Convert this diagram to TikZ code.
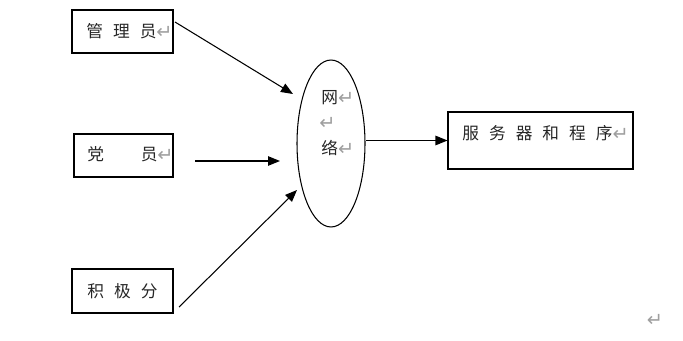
\documentclass[tikz,border=0pt]{standalone}
\usepackage{fontspec}
\newfontfamily\cjk{Noto Sans CJK SC}
\newfontfamily\symfont{DejaVu Sans}
\usepackage{xcolor}
\usetikzlibrary{arrows.meta, positioning, shapes.geometric}

\newcommand{\cgap}{\hspace{0.6em}}
\newcommand{\ret}{{\symfont\color{gray!75}\fontsize{11}{11}\selectfont\raisebox{-0.5pt}{↵}}}

\begin{document}
\begin{tikzpicture}[x=0.02cm, y=-0.02cm,
    box/.style={draw, line width=0.6pt, inner sep=0pt},
    txt/.style={inner sep=0pt, anchor=west, text=black!85, font=\cjk\fontsize{9.5}{11}\selectfont},
    link/.style={line width=0.6pt, -{Triangle[length=0.24cm, width=0.19cm]}}]
    \useasboundingbox (0, 0) rectangle (683, 341);

    % 左边三个框
    \node[box, minimum width=2.02cm, minimum height=0.86cm] (adm) at (122.5, 31.5) {};
    \node[txt] (admtxt) at (86, 31) {管\cgap 理\cgap 员\ret};
    \node[box, minimum width=1.98cm, minimum height=0.86cm] (pty) at (123.5, 155.5) {};
    \node[txt] (ptytxt) at (87, 154) {党\cgap\hspace{1em}\cgap 员\ret};
    \node[box, minimum width=2.02cm, minimum height=0.88cm] (act) at (122.5, 291) {};
    \node[txt] (acttxt) at (87, 291) {积\cgap 极\cgap 分};

    % 网络
    \node[box, ellipse, minimum width=1.36cm, minimum height=3.34cm] (net) at (331, 143.5) {};
    \node[txt] (net1) at (321, 98) {网\ret};
    \node[txt] (net2) at (319, 123) {\ret};
    \node[txt] (net3) at (321, 148) {络\ret};

    % 服务器
    \node[box, minimum width=3.7cm, minimum height=1.14cm] (srv) at (540.5, 140.5) {};
    \node[txt] (srvtxt) at (462, 133) {服\cgap 务\cgap 器\cgap 和\cgap 程\cgap 序\ret};

    % 箭头
    \coordinate (a1s) at (175, 22);
    \coordinate (a1e) at (293, 94);
    \coordinate (a2s) at (195, 161);
    \coordinate (a2e) at (280, 161);
    \coordinate (a3s) at (179, 307);
    \coordinate (a3e) at (297, 190);
    \draw[link] (a1s) -- (a1e);
    \draw[link] (a2s) -- (a2e);
    \draw[link] (a3s) -- (a3e);
    \draw[link] (srv.west -| net.east) -- (srv.west);

    % 段落标记
    \node[inner sep=0pt] (endmark) at (655, 320) {\ret};
\end{tikzpicture}
\end{document}
